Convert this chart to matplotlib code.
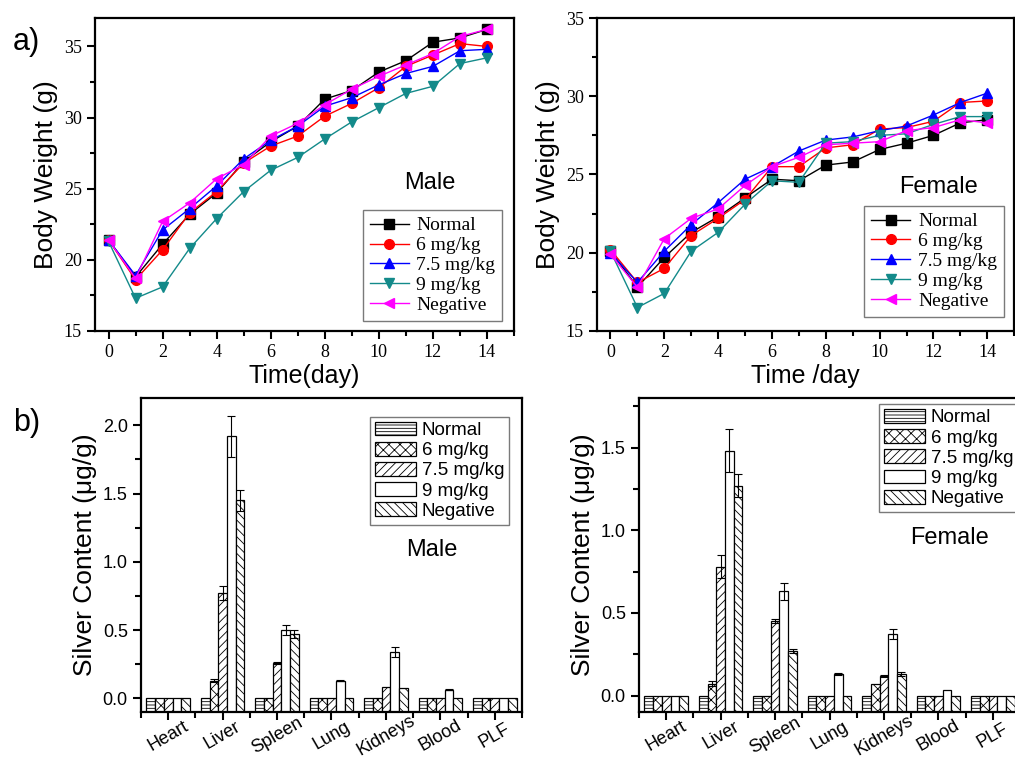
import numpy as np
import matplotlib.pyplot as plt
from matplotlib.ticker import MultipleLocator

plt.rcParams['hatch.linewidth'] = 0.6
SERIF = 'Liberation Serif'
SANS = 'Liberation Sans'

# body weight data (g), days 0-14
days = list(range(15))
groups = ['Normal', '6 mg/kg', '7.5 mg/kg', '9 mg/kg', 'Negative']

male_normal = [21.4, 18.8, 21.1, 23.2, 24.7, 26.9, 28.3, 29.4, 31.3, 31.9, 33.2, 34.0, 35.3, 35.6, 36.2]
male_6 = [21.4, 18.6, 20.7, 23.3, 24.8, 26.8, 28.0, 28.7, 30.1, 31.0, 32.1, 33.6, 34.4, 35.2, 35.0]
male_75 = [21.4, 18.9, 22.1, 23.6, 25.2, 27.1, 28.4, 29.4, 30.8, 31.4, 32.3, 33.1, 33.6, 34.7, 34.8]
male_9 = [21.3, 17.3, 18.1, 20.8, 22.9, 24.8, 26.3, 27.2, 28.5, 29.7, 30.7, 31.7, 32.2, 33.8, 34.2]
male_neg = [21.4, 18.7, 22.7, 24.0, 25.7, 26.7, 28.7, 29.6, 30.9, 32.0, 32.9, 33.7, 34.5, 35.7, 36.2]

female_normal = [20.1, 17.8, 19.7, 21.3, 22.3, 23.5, 24.7, 24.6, 25.6, 25.8, 26.6, 27.0, 27.5, 28.3, 28.5]
female_6 = [20.2, 18.1, 19.0, 21.1, 22.2, 23.4, 25.5, 25.5, 26.7, 26.9, 27.9, 28.0, 28.4, 29.6, 29.7]
female_75 = [20.0, 18.1, 20.1, 21.8, 23.2, 24.7, 25.5, 26.5, 27.2, 27.4, 27.8, 28.1, 28.8, 29.6, 30.2]
female_9 = [20.1, 16.5, 17.4, 20.1, 21.3, 23.1, 24.6, 24.5, 27.0, 27.1, 27.5, 27.6, 28.2, 28.7, 28.7]
female_neg = [19.9, 17.8, 20.9, 22.2, 22.8, 24.3, 25.5, 26.1, 26.9, 27.0, 27.1, 27.8, 28.0, 28.5, 28.3]

# silver content (ug/g)
organs = ['Heart', 'Liver', 'Spleen', 'Lung', 'Kidneys', 'Blood', 'PLF']
m_ag_normal = [0, 0, 0, 0, 0, 0, 0]
m_ag_6 = [0, 0.13, 0, 0, 0, 0, 0]
m_ag_75 = [0, 0.77, 0.26, 0, 0.08, 0, 0]
m_ag_9 = [0, 1.92, 0.50, 0.13, 0.34, 0.065, 0]
m_ag_neg = [0, 1.45, 0.47, 0, 0.075, 0, 0]
m_err_6 = [0, 0.01, 0, 0, 0, 0, 0]
m_err_75 = [0, 0.05, 0.005, 0, 0, 0, 0]
m_err_9 = [0, 0.15, 0.035, 0.005, 0.035, 0.003, 0]
m_err_neg = [0, 0.08, 0.03, 0, 0, 0, 0]

f_ag_normal = [0, 0, 0, 0, 0, 0, 0]
f_ag_6 = [0, 0.07, 0, 0, 0.07, 0, 0]
f_ag_75 = [0, 0.78, 0.45, 0, 0.12, 0, 0]
f_ag_9 = [0, 1.48, 0.63, 0.13, 0.37, 0.035, 0]
f_ag_neg = [0, 1.27, 0.27, 0, 0.13, 0, 0]
f_err_6 = [0, 0.015, 0, 0, 0, 0, 0]
f_err_75 = [0, 0.07, 0.01, 0, 0.005, 0, 0]
f_err_9 = [0, 0.13, 0.05, 0.005, 0.03, 0, 0]
f_err_neg = [0, 0.07, 0.01, 0, 0.01, 0, 0]

line_styles = [('black', 's'), ('red', 'o'), ('blue', '^'), ('#138a8a', 'v'), ('magenta', '<')]
hatches = ['-----', 'xxx', '////', '', '\\\\\\\\']

fig = plt.figure(figsize=(10.15, 7.63), dpi=100)


def weight_panel(rect, series, ylim, label, lab_xy, leg_anchor, xlab):
    ax = fig.add_axes(rect)
    for vals, name, (c, m) in zip(series, groups, line_styles):
        ax.plot(days, vals, color=c, marker=m, ms=7, lw=1, label=name)
    ax.set_xlim(-0.5, 15.0)
    ax.set_ylim(*ylim)
    ax.xaxis.set_major_locator(MultipleLocator(2))
    ax.xaxis.set_minor_locator(MultipleLocator(1))
    ax.yaxis.set_major_locator(MultipleLocator(5))
    ax.yaxis.set_minor_locator(MultipleLocator(2.5))
    ax.tick_params(which='major', direction='out', length=6, width=1.5, labelsize=13)
    ax.tick_params(which='minor', direction='out', length=3.5, width=1.5)
    for lbl in ax.get_xticklabels() + ax.get_yticklabels():
        lbl.set_family(SERIF)
    for s in ax.spines.values():
        s.set_linewidth(1.6)
    ax.set_xlabel(xlab, fontsize=18, family=SANS, labelpad=2)
    ax.set_ylabel('Body Weight (g)', fontsize=19, family=SANS)
    ax.text(lab_xy[0], lab_xy[1], label, transform=ax.transAxes, fontsize=17,
            family=SANS, ha='center', va='center')
    leg = ax.legend(loc='lower right', bbox_to_anchor=leg_anchor, borderaxespad=0,
                    prop={'family': SERIF, 'size': 14}, fancybox=False,
                    edgecolor='0.35', handlelength=2.0, labelspacing=0.12,
                    borderpad=0.35, handletextpad=0.4)
    leg.get_frame().set_linewidth(1.0)
    return ax


ax1 = weight_panel([0.0936, 0.5662, 0.4128, 0.4102],
                   [male_normal, male_6, male_75, male_9, male_neg],
                   (15, 37), 'Male', (0.80, 0.473), (0.972, 0.032), 'Time(day)')
ax2 = weight_panel([0.5882, 0.5662, 0.411, 0.4102],
                   [female_normal, female_6, female_75, female_9, female_neg],
                   (15, 35), 'Female', (0.818, 0.46), (0.975, 0.045), 'Time /day')


def silver_panel(rect, vals, errs, ylim, label, lab_xy, leg_loc, leg_anchor):
    ax = fig.add_axes(rect)
    x = np.arange(len(organs))
    w = 0.16
    for i, (v, h, name) in enumerate(zip(vals, hatches, groups)):
        v = np.array(v)
        xi = x + (i - 2) * w
        ax.bar(xi, v - ylim[0], bottom=ylim[0], width=w, color='white',
               edgecolor='black', linewidth=0.9, hatch=h, label=name)
        e = errs[i]
        if e is not None:
            e = np.array(e)
            keep = e > 0
            ax.errorbar(xi[keep], v[keep], yerr=e[keep], fmt='none', ecolor='black',
                        elinewidth=0.8, capsize=3, capthick=0.8)
    ax.set_xlim(-0.5, 6.5)
    ax.set_ylim(*ylim)
    ax.set_xticks(x)
    ax.set_xticklabels(organs, rotation=30, ha='center', va='center',
                       rotation_mode='anchor', fontsize=13, family=SANS)
    ax.xaxis.set_minor_locator(MultipleLocator(0.5))
    ax.yaxis.set_major_locator(MultipleLocator(0.5))
    ax.yaxis.set_minor_locator(MultipleLocator(0.25))
    ax.yaxis.set_major_formatter(plt.FormatStrFormatter('%.1f'))
    ax.tick_params(which='major', direction='out', length=6, width=1.5, labelsize=13)
    ax.tick_params(axis='x', which='major', pad=11)
    ax.tick_params(which='minor', direction='out', length=4, width=1.5)
    for lbl in ax.get_yticklabels():
        lbl.set_family(SANS)
    for s in ax.spines.values():
        s.set_linewidth(1.6)
    ax.set_ylabel('Silver Content (\u03bcg/g)', fontsize=19, family=SANS)
    ax.text(lab_xy[0], lab_xy[1], label, transform=ax.transAxes, fontsize=17,
            family=SANS, ha='center', va='center')
    leg = ax.legend(loc=leg_loc, bbox_to_anchor=leg_anchor, borderaxespad=0,
                    prop={'family': SANS, 'size': 13.5}, fancybox=False,
                    edgecolor='0.35', handlelength=2.2, handleheight=0.75,
                    labelspacing=0.15, borderpad=0.25, handletextpad=0.3)
    leg.get_frame().set_linewidth(1.0)
    return ax


ax3 = silver_panel([0.1389, 0.0668, 0.3754, 0.4115],
                   [m_ag_normal, m_ag_6, m_ag_75, m_ag_9, m_ag_neg],
                   [None, m_err_6, m_err_75, m_err_9, m_err_neg],
                   (-0.1, 2.2), 'Male', (0.764, 0.516), 'upper right', (0.966, 0.94))
ax4 = silver_panel([0.6296, 0.0668, 0.3754, 0.4115],
                   [f_ag_normal, f_ag_6, f_ag_75, f_ag_9, f_ag_neg],
                   [None, f_err_6, f_err_75, f_err_9, f_err_neg],
                   (-0.1, 1.8), 'Female', (0.816, 0.554), 'upper left', (0.63, 0.98))

fig.text(0.013, 0.945, 'a)', fontsize=22, family=SANS, ha='left', va='center')
fig.text(0.013, 0.446, 'b)', fontsize=22, family=SANS, ha='left', va='center')

fig.savefig('out.png', dpi=100)
